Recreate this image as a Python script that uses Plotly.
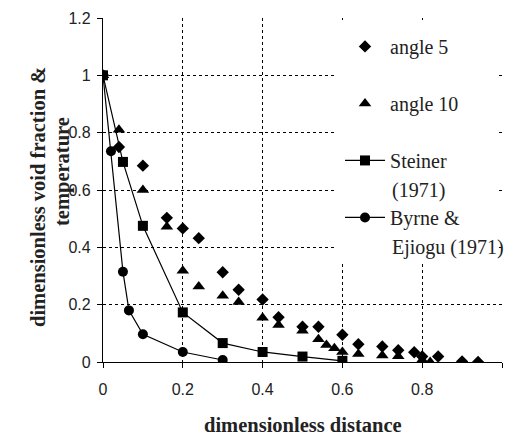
import plotly.graph_objects as go

# angle 5 measurements
a5_x = [0, 0.04, 0.10, 0.16, 0.20, 0.24, 0.30, 0.34, 0.40, 0.44, 0.50, 0.54, 0.60, 0.64, 0.70, 0.74, 0.78, 0.80, 0.84, 0.90, 0.94]
a5_y = [1, 0.75, 0.685, 0.503, 0.466, 0.432, 0.313, 0.252, 0.218, 0.156, 0.123, 0.123, 0.095, 0.062, 0.054, 0.041, 0.034, 0.019, 0.019, 0.002, 0.0]

# angle 10 measurements
a10_x = [0, 0.04, 0.10, 0.16, 0.20, 0.24, 0.30, 0.34, 0.40, 0.44, 0.50, 0.54, 0.56, 0.58, 0.60, 0.64, 0.70, 0.74, 0.80, 0.82]
a10_y = [1, 0.81, 0.60, 0.472, 0.318, 0.263, 0.231, 0.209, 0.154, 0.129, 0.109, 0.079, 0.059, 0.048, 0.035, 0.028, 0.023, 0.020, 0.007, 0.0]

# Steiner (1971)
st_x = [0, 0.05, 0.10, 0.20, 0.30, 0.40, 0.50, 0.60]
st_y = [1, 0.698, 0.475, 0.173, 0.066, 0.035, 0.019, 0.004]

# Byrne & Ejiogu (1971)
be_x = [0, 0.02, 0.05, 0.065, 0.10, 0.20, 0.30]
be_y = [1, 0.735, 0.315, 0.18, 0.097, 0.035, 0.007]

x_ticks = [0, 0.2, 0.4, 0.6, 0.8, 1]
y_ticks = [0, 0.2, 0.4, 0.6, 0.8, 1, 1.2]

SERIF = "Liberation Serif"
SANS = "Liberation Sans, Arial, sans-serif"

fig = go.Figure()
fig.add_trace(go.Scatter(x=a5_x, y=a5_y, mode="markers", name="angle 5", legendgroup="a5",
                         marker=dict(symbol="diamond", size=9.5, color="black")))
fig.add_trace(go.Scatter(x=a10_x, y=a10_y, mode="markers", name="angle 10", legendgroup="a10",
                         marker=dict(symbol="triangle-up", size=11, color="black")))
fig.add_trace(go.Scatter(x=st_x, y=st_y, mode="lines+markers", name="Steiner", legendgroup="st",
                         line=dict(color="black", width=1.2),
                         marker=dict(symbol="square", size=10, color="black")))
fig.add_trace(go.Scatter(x=be_x, y=be_y, mode="lines+markers", name="Byrne &amp;", legendgroup="be",
                         line=dict(color="black", width=1.2),
                         marker=dict(symbol="circle", size=10, color="black")))

grid = dict(showgrid=True, gridcolor="black", gridwidth=1, griddash="3px,3px",
            zeroline=False, showline=True, linecolor="black", linewidth=1.2,
            ticks="outside", ticklen=5, tickcolor="black",
            tickfont=dict(family=SANS, size=16, color="#222"))

fig.update_xaxes(range=[0, 1], tickvals=x_ticks, ticklabelstandoff=8, **grid)
fig.update_yaxes(range=[0, 1.2], tickvals=y_ticks, ticklabelstandoff=3, **grid)

# white panel behind the legend
fig.add_shape(type="rect", xref="paper", yref="paper", x0=0.581, x1=0.9925, y0=0.29, y1=0.994,
              fillcolor="white", line=dict(width=0), layer="above")

ann_font = dict(family=SERIF, size=20, color="#222")
title_font = dict(family=SERIF, size=20.5, color="#222")
fig.update_layout(
    width=506, height=436,
    margin=dict(l=103, r=4, t=18, b=74),
    paper_bgcolor="white", plot_bgcolor="white",
    showlegend=True,
    legend=dict(x=0.594, y=0.974, xanchor="left", yanchor="top",
                bgcolor="rgba(0,0,0,0)", font=ann_font,
                tracegroupgap=28, itemwidth=40),
    annotations=[
        dict(text="(1971)", xref="paper", yref="paper", x=0.719, y=0.5,
             xanchor="left", yanchor="middle", showarrow=False, font=ann_font),
        dict(text="Ejiogu (1971)", xref="paper", yref="paper", x=0.719, y=0.334,
             xanchor="left", yanchor="middle", showarrow=False, font=ann_font),
        dict(text="<b>dimensionless distance</b>", xref="paper", yref="paper", x=0.5, y=-0.183,
             xanchor="center", yanchor="middle", showarrow=False, font=title_font),
        dict(text="<b>dimensionless void fraction &amp;</b>", xref="paper", yref="paper",
             x=(38 - 103) / 399, y=(362 - 197) / 344, textangle=-90,
             xanchor="center", yanchor="middle", showarrow=False, font=title_font),
        dict(text="<b>temperature</b>", xref="paper", yref="paper",
             x=(62 - 103) / 399, y=(362 - 172) / 344, textangle=-90,
             xanchor="center", yanchor="middle", showarrow=False, font=title_font),
    ],
)

fig.write_html("out.html")
